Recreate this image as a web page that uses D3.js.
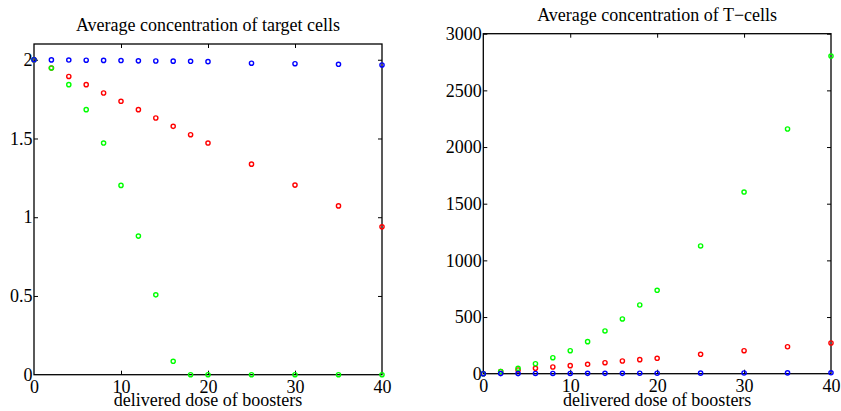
<!DOCTYPE html>
<html><head><meta charset="utf-8">
<script src="https://cdn.jsdelivr.net/npm/d3@7"></script>
<style>body{margin:0;background:#fff}svg{display:block} text{font-family:"Liberation Serif",serif !important;}</style>
</head><body>
<svg id="chart" width="841" height="411"></svg>
<script>
// ---- data ----
const doses = [0, 2, 4, 6, 8, 10, 12, 14, 16, 18, 20, 25, 30, 35, 40];
const xTicks = [0, 10, 20, 30, 40];

// Left panel: average concentration of target cells
const targetRed   = [2.0, 1.947, 1.894, 1.842, 1.789, 1.736, 1.683, 1.630, 1.577, 1.524, 1.471, 1.337, 1.204, 1.072, 0.939];
const targetGreen = [2.0, 1.948, 1.842, 1.683, 1.471, 1.202, 0.880, 0.507, 0.085, 0, 0, 0, 0, 0, 0];
const targetBlue  = [2.0, 1.999, 1.998, 1.997, 1.996, 1.995, 1.993, 1.992, 1.991, 1.990, 1.988, 1.978, 1.975, 1.971, 1.967];
const targetYTicks = [0, 0.5, 1, 1.5, 2];
const targetYTickLabels = ["0", "0.5", "1", "1.5", "2"];

// Right panel: average concentration of T-cells
const tRed   = [0, 18, 33, 47, 59, 71, 83, 97, 112, 124, 136, 171, 203, 238, 271];
const tGreen = [0, 20, 47, 88, 141, 203, 283, 377, 483, 606, 736, 1127, 1603, 2159, 2803];
const tBlue  = [0, 1, 1, 2, 2, 2, 3, 3, 3, 4, 4, 5, 6, 7, 8];
const tYTicks = [0, 500, 1000, 1500, 2000, 2500, 3000];
const tYTickLabels = ["0", "500", "1000", "1500", "2000", "2500", "3000"];

const titles = ["Average concentration of target cells", "Average concentration of T\u2212cells"];
const xLabel = "delivered dose of boosters";

const colors = {red: "#ff0000", green: "#00ff00", blue: "#0000ff"};
const FONT = "Liberation Serif, serif";
const FS = "18px";

const svg = d3.select("#chart");

function panel(opt) {
  const x = d3.scaleLinear().domain([0, 40]).range([opt.left, opt.right]);
  const y = d3.scaleLinear().domain(opt.yDomain).range([opt.bottom, opt.top]);
  const g = svg.append("g");
  const tickLen = 4;

  // box
  g.append("rect").attr("x", opt.left).attr("y", opt.top)
    .attr("width", opt.right - opt.left).attr("height", opt.bottom - opt.top)
    .attr("fill", "none").attr("stroke", "#000").attr("stroke-width", 1.3);

  // axes (inward ticks)
  const axB = d3.axisBottom(x).tickValues(xTicks).tickSize(-tickLen).tickFormat(d3.format("d"));
  const axT = d3.axisTop(x).tickValues(xTicks).tickSize(-tickLen).tickFormat("");
  const axL = d3.axisLeft(y).tickValues(opt.yTicks).tickSize(-tickLen)
    .tickFormat((d, i) => opt.yTickLabels[i]);
  const axR = d3.axisRight(y).tickValues(opt.yTicks).tickSize(-tickLen).tickFormat("");

  const gb = g.append("g").attr("transform", `translate(0,${opt.bottom})`).call(axB);
  const gt = g.append("g").attr("transform", `translate(0,${opt.top})`).call(axT);
  const gl = g.append("g").attr("transform", `translate(${opt.left},0)`).call(axL);
  const gr = g.append("g").attr("transform", `translate(${opt.right},0)`).call(axR);
  [gb, gt, gl, gr].forEach(a => {
    a.attr("font-family", FONT).attr("font-size", FS);
    a.select(".domain").remove();
    a.selectAll(".tick line").attr("stroke", "#000").attr("stroke-width", 1);
    a.selectAll(".tick text").attr("fill", "#000");
  });
  gb.selectAll(".tick text").attr("dy", null).attr("y", 18);
  gl.selectAll(".tick text").attr("x", -1.5);
  // hide ticks lying on the box edges
  [gb, gt].forEach(a => a.selectAll(".tick line").filter(d => d === 0 || d === 40).remove());
  [gl, gr].forEach(a => a.selectAll(".tick line").filter(d => d === opt.yDomain[0]).remove());

  // title
  g.append("text").attr("x", (opt.left + opt.right) / 2).attr("y", opt.top - 13)
    .attr("text-anchor", "middle").attr("font-family", FONT).attr("font-size", FS)
    .text(opt.title);
  // x label
  g.append("text").attr("x", (opt.left + opt.right) / 2).attr("y", 406)
    .attr("text-anchor", "middle").attr("font-family", FONT).attr("font-size", FS)
    .text(xLabel);

  // series: red, green, blue (blue on top)
  opt.series.forEach(s => {
    g.append("g").selectAll("circle").data(doses.map((d, i) => [d, s.values[i]]))
      .join("circle")
      .attr("cx", d => x(d[0])).attr("cy", d => y(d[1])).attr("r", 2.1)
      .attr("fill", "none").attr("stroke", s.color).attr("stroke-width", 1.4);
  });
}

panel({
  left: 34, right: 382, top: 44, bottom: 374.7,
  yDomain: [0, 2.1], yTicks: targetYTicks, yTickLabels: targetYTickLabels,
  title: titles[0],
  series: [{values: targetRed, color: colors.red}, {values: targetGreen, color: colors.green}, {values: targetBlue, color: colors.blue}]
});
panel({
  left: 483.3, right: 831, top: 33.7, bottom: 373.7,
  yDomain: [0, 3000], yTicks: tYTicks, yTickLabels: tYTickLabels,
  title: titles[1],
  series: [{values: tRed, color: colors.red}, {values: tGreen, color: colors.green}, {values: tBlue, color: colors.blue}]
});
</script>
</body></html>
